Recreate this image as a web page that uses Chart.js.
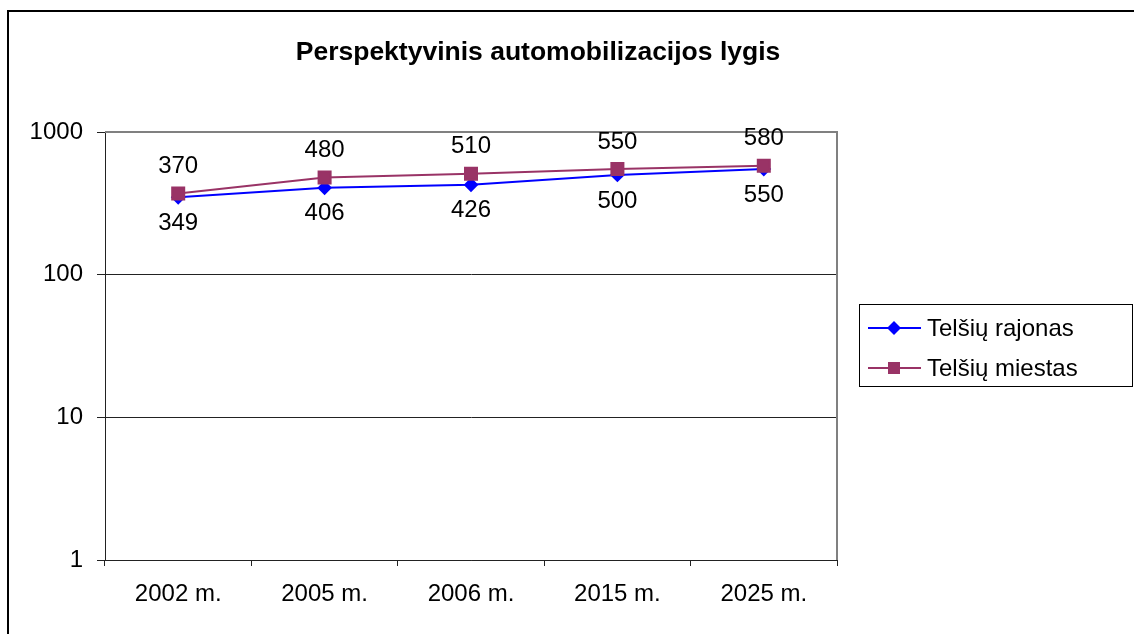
<!DOCTYPE html>
<html>
<head>
<meta charset="utf-8">
<script src="https://cdn.jsdelivr.net/npm/chart.js@4.4.0/dist/chart.umd.min.js"></script>
<style>
  html, body { margin: 0; padding: 0; background: #fff; }
  #wrap { position: relative; width: 1134px; height: 634px; }
</style>
</head>
<body>
<div id="wrap"><canvas id="chart" width="1134" height="634"></canvas></div>
<script>
const years = ["2002 m.", "2005 m.", "2006 m.", "2015 m.", "2025 m."]
const rajonas = [349, 406, 426, 500, 550]
const miestas = [370, 480, 510, 550, 580]
const yTicks = [1, 10, 100, 1000]
const titleText = "Perspektyvinis automobilizacijos lygis"

const FONT = "'Liberation Sans', Arial, sans-serif"
const BLUE = "#0000ff"
const PLUM = "#993366"

// frame, title, plot border, value labels and the boxed legend
const decor = {
  id: "decor",
  beforeDraw(chart) {
    const ctx = chart.ctx
    ctx.save()
    ctx.fillStyle = "#000"
    ctx.fillRect(7, 10, chart.width - 7, 2)
    ctx.fillRect(7, 10, 2, chart.height - 10)
    ctx.font = "bold 26.5px " + FONT
    ctx.textAlign = "center"
    ctx.textBaseline = "middle"
    ctx.fillText(titleText, 538, 53)
    ctx.restore()
  },
  afterDraw(chart) {
    const ctx = chart.ctx
    const a = chart.chartArea
    ctx.save()
    // grey top/right edge of plot area
    ctx.strokeStyle = "#808080"
    ctx.lineWidth = 2
    ctx.beginPath()
    ctx.moveTo(a.left, a.top)
    ctx.lineTo(a.right, a.top)
    ctx.lineTo(a.right, a.bottom)
    ctx.stroke()

    // value labels
    ctx.fillStyle = "#000"
    ctx.font = "24px " + FONT
    ctx.textAlign = "center"
    ctx.textBaseline = "middle"
    chart.data.datasets.forEach((ds, i) => {
      const meta = chart.getDatasetMeta(i)
      meta.data.forEach((pt, j) => {
        const dy = ds.labelBelow ? 26 : -27
        ctx.fillText(String(ds.data[j]), pt.x, pt.y + dy)
      })
    })

    // legend
    const lx = 859, ly = 304, lw = 273, lh = 82
    ctx.strokeStyle = "#000"
    ctx.lineWidth = 1
    ctx.strokeRect(lx + 0.5, ly + 0.5, lw, lh)
    chart.data.datasets.forEach((ds, i) => {
      const y = ly + 24 + i * 40
      ctx.strokeStyle = ds.borderColor
      ctx.lineWidth = 2
      ctx.beginPath()
      ctx.moveTo(868, y)
      ctx.lineTo(921, y)
      ctx.stroke()
      ctx.fillStyle = ds.pointBackgroundColor
      ctx.beginPath()
      if (ds.pointStyle === "rectRot") {
        ctx.moveTo(894, y - 7)
        ctx.lineTo(901, y)
        ctx.lineTo(894, y + 7)
        ctx.lineTo(887, y)
        ctx.closePath()
      } else {
        ctx.rect(888, y - 6, 12, 12)
      }
      ctx.fill()
      ctx.fillStyle = "#000"
      ctx.font = "24px " + FONT
      ctx.textAlign = "left"
      ctx.textBaseline = "middle"
      ctx.fillText(ds.label, 927, y + 1)
    })
    ctx.restore()
  }
}

new Chart(document.getElementById("chart"), {
  type: "line",
  data: {
    labels: years,
    datasets: [
      {
        label: "Telšių rajonas",
        data: rajonas,
        borderColor: BLUE,
        backgroundColor: BLUE,
        pointBackgroundColor: BLUE,
        pointBorderColor: BLUE,
        pointStyle: "rectRot",
        pointRadius: 6,
        borderWidth: 2,
        tension: 0,
        labelBelow: true,
        order: 2
      },
      {
        label: "Telšių miestas",
        data: miestas,
        borderColor: PLUM,
        backgroundColor: PLUM,
        pointBackgroundColor: PLUM,
        pointBorderColor: PLUM,
        pointStyle: "rect",
        pointRadius: 8.5,
        borderWidth: 2,
        tension: 0,
        order: 1
      }
    ]
  },
  options: {
    responsive: false,
    animation: false,
    layout: { padding: { top: 132, right: 297, bottom: 0, left: 0 } },
    plugins: {
      legend: { display: false },
      title: { display: false },
      tooltip: { enabled: false }
    },
    scales: {
      x: {
        offset: true,
        grid: { offset: true, drawOnChartArea: false, drawTicks: true, tickLength: 6, color: "#222" },
        border: { color: "#222", width: 1 },
        ticks: { color: "#000", font: { size: 24, family: FONT }, padding: 14, maxRotation: 0 },
        afterFit(scale) { scale.height = 74 }
      },
      y: {
        type: "logarithmic",
        min: 1,
        max: 1000,
        afterBuildTicks(scale) { scale.ticks = yTicks.map(v => ({ value: v })) },
        grid: { color: "#222", tickLength: 8, lineWidth: 1 },
        border: { color: "#222", width: 1 },
        ticks: {
          color: "#000",
          font: { size: 24, family: FONT },
          padding: 14,
          callback: (v) => String(v)
        },
        afterFit(scale) { scale.width = 105 }
      }
    }
  },
  plugins: [decor]
})
</script>
</body>
</html>
